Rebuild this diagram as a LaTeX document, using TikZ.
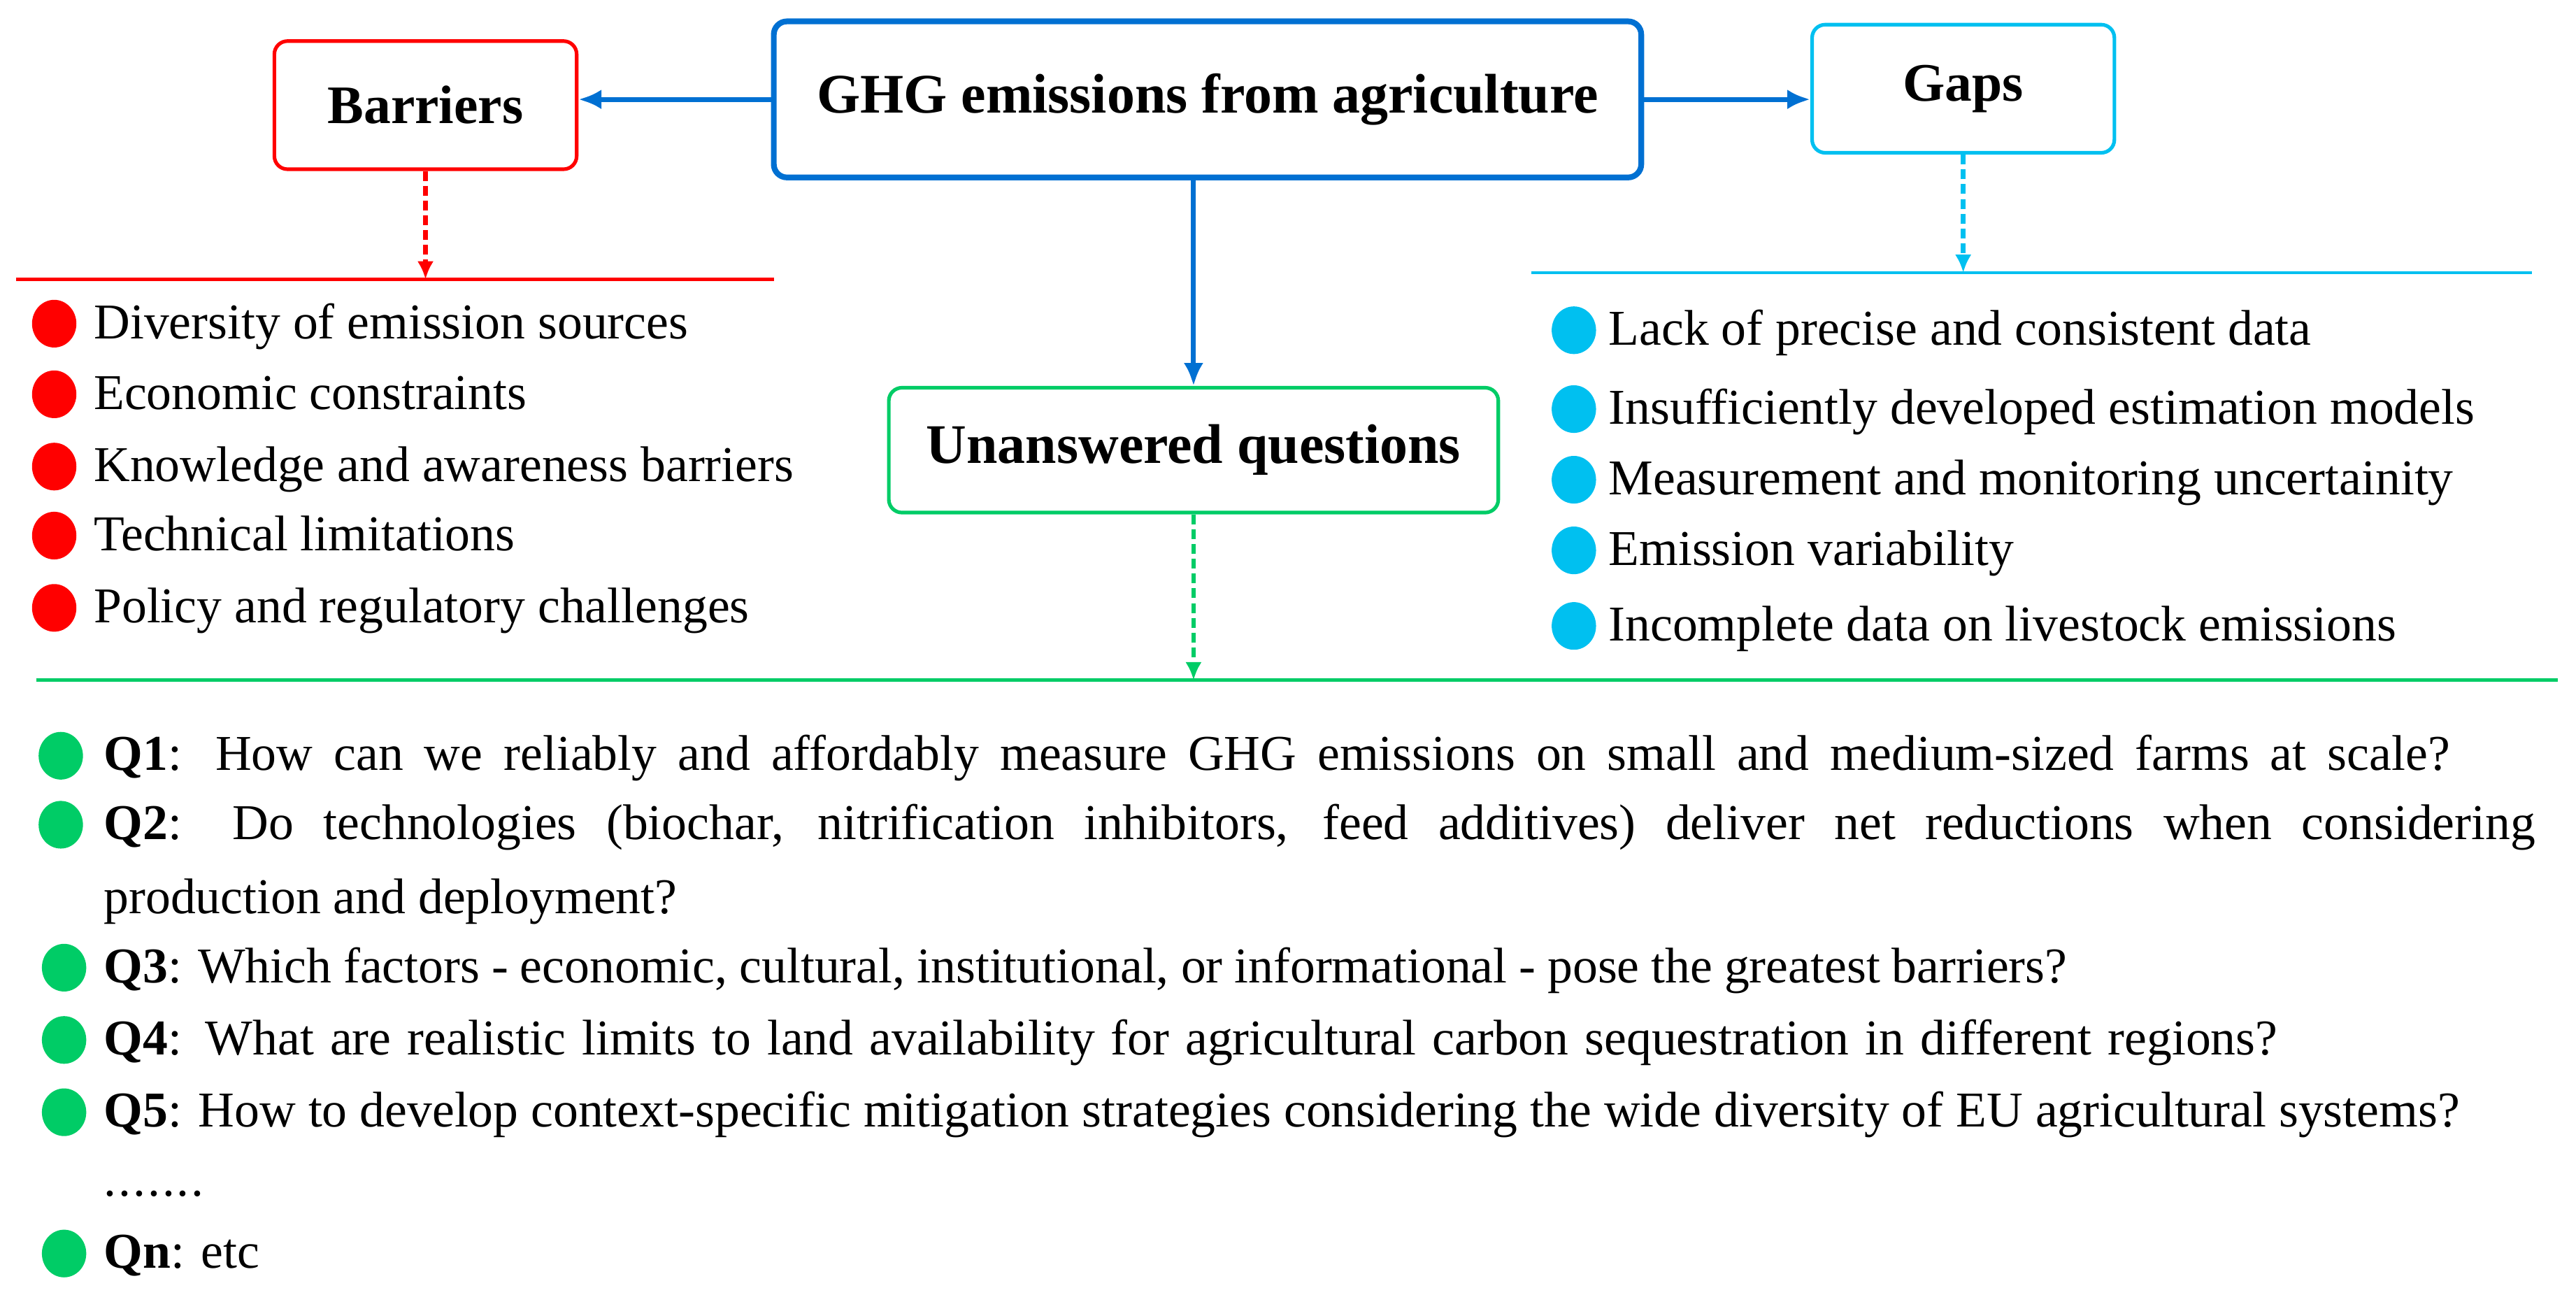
\documentclass[tikz,border=0pt]{standalone}
\usepackage{fontspec}
\setmainfont{Liberation Serif}
\usetikzlibrary{shapes.geometric, arrows.meta}
\definecolor{mainblue}{RGB}{0,112,210}
\definecolor{gapcyan}{RGB}{0,192,240}
\definecolor{qgreen}{RGB}{0,204,102}
\definecolor{barred}{RGB}{255,0,0}

\begin{document}
\begin{tikzpicture}[x=1pt, y=-1pt,
    box/.style={draw=#1, rounded corners=8pt, line width=2.2pt, fill=white, text=black, inner sep=0pt,
        font=\fontsize{33}{40}\selectfont\bfseries},
    dot/.style={ellipse, fill=#1, minimum width=27pt, minimum height=29pt, inner sep=0pt},
    item/.style={anchor=base west, inner sep=0pt, font=\fontsize{30.5}{45}\selectfont},
    link/.style={mainblue, line width=3pt, -{Latex[length=14pt, width=12pt]}},
    drop/.style={line width=2.8pt, dash pattern=on 6pt off 3pt, -{Latex[length=11pt, width=10pt]}}]
    \useasboundingbox (0,0) rectangle (1568,788);

    % Рамки
    \node[box=mainblue, line width=3.5pt, minimum width=528pt, minimum height=95pt, font=\fontsize{34}{40}\selectfont\bfseries] (main) at (735,60.5) {GHG emissions from agriculture\hspace{14pt}};
    \node[box=barred, minimum width=184pt, minimum height=78pt] (barriers) at (259,64) {Barriers};
    \node[box=gapcyan, minimum width=184pt, minimum height=78pt] (gaps) at (1195,54) {Gaps};
    \node[box=qgreen, minimum width=371pt, minimum height=76pt, font=\fontsize{34}{40}\selectfont\bfseries] (uq) at (726.5,274) {Unanswered questions};

    % Стрелки от главной рамки
    \draw[link] (main.west) -- (main.west -| barriers.east);
    \draw[link] (main.east) -- (main.east -| gaps.west);
    \draw[link] (main.south -| uq.north) -- (uq.north);

    % Линии под рамками
    \coordinate (redL) at (10,170);
    \coordinate (redR) at (471,170);
    \coordinate (cyanL) at (932,166);
    \coordinate (cyanR) at (1541,166);
    \coordinate (greenL) at (22,414);
    \coordinate (greenR) at (1557,414);
    \draw[barred, line width=2pt] (redL) -- (redR);
    \draw[gapcyan, line width=2pt] (cyanL) -- (cyanR);
    \draw[qgreen, line width=2pt] (greenL) -- (greenR);
    \draw[drop, barred] (barriers.south) -- (barriers.south |- redL);
    \draw[drop, gapcyan] (gaps.south) -- (gaps.south |- cyanL);
    \draw[drop, qgreen] (uq.south) -- (uq.south |- greenL);

    % Барьеры
    \node[dot=barred] (b1) at (33,197) {};
    \node[dot=barred] (b2) at (33,240) {};
    \node[dot=barred] (b3) at (33,284) {};
    \node[dot=barred] (b4) at (33,326) {};
    \node[dot=barred] (b5) at (33,370) {};
    \node[item] (bt1) at (57,206) {Diversity of emission sources};
    \node[item] (bt2) at (57,249) {Economic constraints};
    \node[item] (bt3) at (57,293) {Knowledge and awareness barriers};
    \node[item] (bt4) at (57,335) {Technical limitations};
    \node[item] (bt5) at (57,379) {Policy and regulatory challenges};

    % Пробелы
    \node[dot=gapcyan] (g1) at (958,201) {};
    \node[dot=gapcyan] (g2) at (958,249) {};
    \node[dot=gapcyan] (g3) at (958,292) {};
    \node[dot=gapcyan] (g4) at (958,335) {};
    \node[dot=gapcyan] (g5) at (958,381) {};
    \node[item] (gt1) at (979,210) {Lack of precise and consistent data};
    \node[item] (gt2) at (979,258) {Insufficiently developed estimation models};
    \node[item] (gt3) at (979,301) {Measurement and monitoring uncertainity};
    \node[item] (gt4) at (979,344) {Emission variability};
    \node[item] (gt5) at (979,390) {Incomplete data on livestock emissions};

    % Вопросы
    \node[dot=qgreen] (q1) at (37,460) {};
    \node[dot=qgreen] (q2) at (37,502) {};
    \node[dot=qgreen] (q3) at (39,589) {};
    \node[dot=qgreen] (q4) at (39,633) {};
    \node[dot=qgreen] (q5) at (39,677) {};
    \node[dot=qgreen] (qn) at (39,763) {};
    \node[item] (qt1) at (63,469) {\makebox[1428pt][s]{\textbf{Q1}: How can we reliably and affordably measure GHG emissions on small and medium-sized farms at scale?}};
    \node[item] (qt2) at (63,511) {\parbox[t]{1480pt}{\textbf{Q2}: Do technologies (biochar, nitrification inhibitors, feed additives) deliver net reductions when considering\linebreak production and deployment?}};
    \node[item] (qt3) at (63,598) {\makebox[1195pt][s]{\textbf{Q3}: Which factors - economic, cultural, institutional, or informational - pose the greatest barriers?}};
    \node[item] (qt4) at (63,642) {\makebox[1323pt][s]{\textbf{Q4}: What are realistic limits to land availability for agricultural carbon sequestration in different regions?}};
    \node[item] (qt5) at (63,686) {\makebox[1434pt][s]{\textbf{Q5}: How to develop context-specific mitigation strategies considering the wide diversity of EU agricultural systems?}};
    \node[item] (dots) at (63,728) {\makebox[61pt][s]{.\hfill.\hfill.\hfill.\hfill.\hfill.\hfill.}};
    \node[item] (qtn) at (63,772) {\textbf{Qn}: etc};
\end{tikzpicture}
\end{document}
